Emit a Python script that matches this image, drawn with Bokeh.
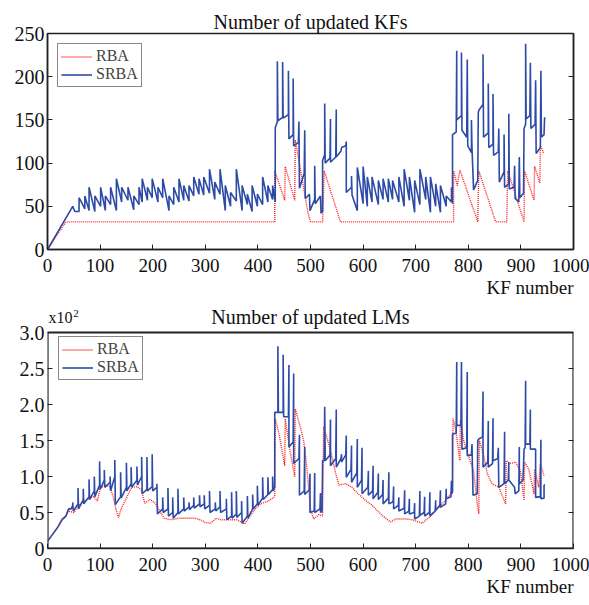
from bokeh.plotting import figure
from bokeh.layouts import column
from bokeh.models import Range1d, LinearAxis, FixedTicker, Title, Label, Legend, LegendItem
from bokeh.embed import file_html
from bokeh.resources import INLINE

FONT = "'Liberation Serif', 'Times New Roman', serif"
BLUE = "#2D4BA6"
RED = "#FF1E1E"
INK = "#222222"

x_ticks = [0, 100, 200, 300, 400, 500, 600, 700, 800, 900, 1000]
kf_yticks = [0, 50, 100, 150, 200, 250]
lm_yticks = [0, 0.5, 1.0, 1.5, 2.0, 2.5, 3.0]
lm_ytick_labels = ["0", "0.5", "1.0", "1.5", "2.0", "2.5", "3.0"]

# ---- Top panel: number of updated KFs (vertices) ----
kf_srba = [
    (0, 0), (48, 50), (52, 44),
    (60, 44), (60, 60), (71, 47), (71, 62), (79, 45), (79, 72), (90, 44), (90, 62),
    (101, 50), (101, 72), (110, 45), (110, 62), (120, 52), (120, 72), (131, 45), (131, 82),
    (141, 55), (141, 72), (153, 57), (153, 72), (164, 46), (164, 62), (174, 52), (174, 72),
    (180, 55), (180, 82), (190, 57), (190, 72), (199, 60), (199, 82), (210, 55), (210, 72),
    (219, 60), (219, 82), (231, 45), (231, 62), (240, 52), (240, 72), (250, 55), (250, 82),
    (259, 57), (259, 74), (269, 56), (269, 74), (278, 62), (278, 84), (288, 64), (288, 82),
    (297, 63), (297, 84), (308, 65), (308, 93), (318, 58), (318, 78), (328, 64), (328, 93),
    (338, 45), (338, 74), (348, 50), (348, 66), (359, 56), (359, 93), (370, 45), (370, 74),
    (380, 52), (380, 64), (389, 44), (389, 74), (399, 50), (399, 64), (409, 52), (409, 84),
    (419, 55), (419, 74), (428, 58), (428, 74), (433, 55),
    (433, 141), (437, 148), (437, 218), (438, 149), (447, 153), (447, 217), (448, 152),
    (458, 156), (458, 207), (459, 128), (467, 133), (467, 198), (468, 120), (477, 124),
    (478, 148), (479, 71), (488, 88), (489, 138), (490, 59), (498, 64), (499, 45),
    (508, 58), (508, 97), (509, 53), (519, 62), (520, 42), (523, 44), (523, 103),
    (527, 110), (527, 169), (528, 100), (537, 106), (538, 151), (538, 101), (548, 107),
    (549, 162), (549, 107), (558, 114), (559, 118), (567, 120), (568, 125), (568, 66),
    (578, 72), (578, 85), (579, 63),
    (589, 45), (589, 95), (600, 53), (600, 96), (608, 50), (608, 84), (617, 55), (617, 84),
    (629, 52), (629, 80), (638, 58), (638, 82), (648, 55), (648, 82), (656, 58), (656, 80),
    (668, 55), (668, 84), (678, 50), (678, 93), (688, 57), (688, 84), (698, 43), (698, 80),
    (708, 52), (708, 93), (719, 58), (719, 84), (728, 43), (728, 84), (738, 50), (738, 76),
    (747, 43), (747, 74), (758, 50), (758, 62), (768, 55), (768, 72), (770, 53),
    (770, 133), (777, 136), (778, 230), (778, 150), (787, 155), (787, 228), (788, 138),
    (797, 130), (798, 220), (799, 120), (806, 112), (806, 150), (807, 118), (810, 69),
    (818, 80), (819, 159), (821, 162), (828, 168), (828, 226), (829, 130), (838, 135),
    (838, 192), (839, 118), (847, 122), (847, 180), (848, 109), (857, 113), (858, 140),
    (859, 78), (868, 90), (868, 133), (869, 72), (877, 76), (877, 157), (878, 70),
    (887, 72), (888, 97), (889, 59), (896, 55), (897, 107), (898, 60), (905, 65),
    (906, 140), (909, 145), (909, 238), (910, 151), (917, 155), (918, 216), (919, 140),
    (927, 145), (928, 196), (929, 111), (937, 118), (938, 207), (939, 130), (944, 133),
    (945, 152), (946, 153),
]
kf_rba = [
    (0, 0), (35, 32), (432, 32), (432, 91), (451, 57), (452, 96), (470, 57), (471, 127),
    (496, 40), (500, 32), (523, 32), (526, 91), (557, 32), (772, 32), (772, 91), (779, 74),
    (784, 92), (818, 32), (820, 91), (852, 32), (873, 32), (875, 91), (906, 32), (907, 91),
    (925, 57), (926, 96), (936, 77), (937, 120), (944, 111),
]

# ---- Bottom panel: number of updated LMs (x10^2) ----
lm_srba = [
    (0, 0.1), (10, 0.2), (20, 0.3), (28, 0.4), (35, 0.45), (40, 0.55), (45, 0.55),
    (48, 0.6), (48, 0.64), (49, 0.52), (58, 0.62), (58, 0.84), (59, 0.55), (68, 0.68),
    (68, 0.83), (69, 0.62), (79, 0.72), (79, 0.96), (80, 0.68), (89, 0.8), (89, 1.0),
    (90, 0.72), (99, 0.88), (99, 1.21), (100, 0.82), (108, 0.95), (108, 1.09), (109, 0.85),
    (119, 0.92), (119, 1.0), (120, 0.8), (128, 1.0), (128, 1.23), (129, 0.61), (139, 0.72),
    (139, 1.06), (140, 0.7), (150, 0.85), (150, 1.19), (151, 0.8), (159, 0.9), (159, 1.13),
    (160, 0.85), (170, 0.95), (170, 1.14), (171, 0.88), (179, 1.0), (179, 1.27), (180, 0.76),
    (189, 0.82), (189, 1.27), (190, 0.8), (199, 0.86), (199, 1.31), (200, 0.8), (208, 0.85),
    (208, 0.9), (209, 0.48), (219, 0.55), (219, 0.71), (220, 0.5), (229, 0.55), (229, 0.84),
    (230, 0.45), (238, 0.5), (238, 0.71), (239, 0.42), (248, 0.5), (248, 0.83), (249, 0.48),
    (259, 0.55), (259, 0.71), (260, 0.52), (269, 0.58), (269, 0.64), (270, 0.54), (278, 0.6),
    (278, 0.71), (279, 0.56), (289, 0.62), (289, 0.74), (290, 0.58), (298, 0.62), (298, 0.74),
    (299, 0.55), (308, 0.6), (308, 0.8), (309, 0.5), (319, 0.55), (319, 0.64), (320, 0.52),
    (328, 0.58), (328, 0.8), (329, 0.5), (340, 0.55), (340, 0.69), (341, 0.4), (350, 0.45),
    (350, 0.78), (351, 0.42), (359, 0.48), (359, 0.8), (360, 0.43), (369, 0.5), (369, 0.66),
    (370, 0.35), (380, 0.45), (380, 0.73), (381, 0.42), (390, 0.55), (390, 0.75), (391, 0.55),
    (399, 0.62), (399, 0.87), (400, 0.6), (409, 0.7), (409, 0.99), (410, 0.68), (419, 0.75),
    (419, 0.99), (420, 0.75), (428, 0.82), (428, 1.0), (429, 0.8), (432, 0.85),
    (432, 1.89), (438, 1.89), (438, 2.81), (439, 1.89), (448, 1.89), (448, 2.69), (449, 1.83),
    (458, 1.83), (459, 2.55), (459, 1.41), (467, 1.48), (468, 2.43), (468, 1.18), (478, 1.25),
    (479, 1.58), (479, 0.74), (488, 0.8), (489, 1.41), (489, 0.75), (498, 0.82), (499, 1.04),
    (499, 0.5), (507, 0.52), (508, 1.05), (508, 0.5), (518, 0.55), (519, 0.77), (519, 0.5),
    (522, 0.52), (523, 1.22), (526, 1.22), (527, 1.97), (528, 1.22), (537, 1.3), (538, 1.79),
    (538, 1.15), (548, 1.25), (549, 1.93), (549, 1.13), (558, 1.25), (559, 1.31), (559, 1.2),
    (567, 1.3), (568, 1.57), (568, 0.99), (577, 1.1), (578, 1.43), (578, 0.92), (588, 1.05),
    (589, 1.52), (589, 0.85), (597, 0.95), (598, 1.4), (598, 0.76), (609, 0.85), (610, 1.08),
    (610, 0.74), (618, 0.8), (619, 1.15), (619, 0.69), (628, 0.78), (629, 1.04), (629, 0.68),
    (637, 0.75), (638, 0.95), (638, 0.62), (648, 0.7), (649, 1.06), (649, 0.62), (657, 0.65),
    (658, 0.86), (658, 0.55), (667, 0.6), (668, 0.71), (668, 0.52), (678, 0.56), (679, 0.81),
    (679, 0.48), (687, 0.52), (688, 0.69), (688, 0.48), (697, 0.5), (698, 0.63), (698, 0.41),
    (707, 0.45), (708, 0.8), (708, 0.46), (716, 0.5), (717, 0.72), (717, 0.45), (726, 0.5),
    (727, 0.78), (727, 0.45), (737, 0.52), (738, 0.67), (738, 0.53), (746, 0.6), (747, 0.81),
    (747, 0.57), (757, 0.62), (758, 0.83), (758, 0.69), (767, 0.72), (768, 0.94), (768, 0.76),
    (770, 0.78), (770, 1.59), (777, 1.6), (778, 2.59), (778, 1.71), (786, 1.71), (787, 2.59),
    (788, 1.38), (797, 1.4), (798, 2.45), (798, 1.29), (806, 1.3), (807, 1.45), (809, 0.74),
    (817, 0.76), (818, 1.5), (820, 1.52), (827, 1.55), (828, 2.18), (828, 1.13), (837, 1.2),
    (838, 1.77), (838, 1.13), (846, 1.18), (847, 1.81), (847, 1.22), (856, 1.25), (857, 1.4),
    (858, 0.85), (868, 0.9), (869, 1.62), (869, 0.9), (876, 0.95), (877, 1.2), (877, 0.95),
    (888, 0.85), (889, 0.76), (896, 0.8), (897, 1.41), (897, 0.9), (904, 0.95), (906, 1.38),
    (908, 1.4), (909, 2.33), (909, 1.45), (917, 1.45), (918, 1.93), (918, 1.38), (928, 1.38),
    (928, 0.71), (937, 0.72), (938, 1.51), (938, 0.69), (944, 0.7), (944, 0.88), (946, 0.88),
]
lm_rba = [
    (0, 0.1), (10, 0.2), (20, 0.3), (28, 0.42), (35, 0.45), (40, 0.52), (50, 0.5), (55, 0.55),
    (60, 0.6), (70, 0.66), (80, 0.7), (88, 0.72), (95, 0.66), (100, 0.84), (110, 0.88),
    (118, 0.86), (125, 0.72), (130, 0.55), (135, 0.43), (140, 0.55), (150, 0.7), (160, 0.85),
    (170, 0.86), (178, 0.82), (185, 0.63), (195, 0.68), (205, 0.63), (215, 0.5), (222, 0.42),
    (235, 0.4), (250, 0.42), (265, 0.42), (280, 0.42), (290, 0.4), (300, 0.36), (310, 0.35),
    (320, 0.42), (330, 0.4), (345, 0.4), (360, 0.4), (370, 0.36), (375, 0.34), (385, 0.45),
    (395, 0.55), (405, 0.62), (420, 0.66), (432, 0.72), (433, 1.8), (440, 1.6), (451, 1.15),
    (452, 1.8), (460, 1.4), (470, 1.0), (471, 1.94), (480, 1.7), (487, 1.5), (492, 1.2),
    (497, 0.8), (500, 0.55), (506, 0.41), (516, 0.47), (523, 0.45), (525, 1.69), (528, 1.62),
    (538, 1.36), (548, 1.04), (554, 0.88), (566, 0.9), (579, 0.85), (585, 0.8), (601, 0.69),
    (617, 0.6), (636, 0.46), (652, 0.37), (662, 0.41), (681, 0.41), (693, 0.4), (712, 0.35),
    (725, 0.43), (738, 0.53), (757, 0.67), (770, 0.8), (771, 1.81), (776, 1.65), (784, 1.22),
    (785, 1.78), (791, 1.5), (801, 1.27), (810, 1.08), (817, 0.62), (820, 0.48), (821, 1.5),
    (830, 1.27), (836, 1.04), (845, 0.9), (858, 0.85), (871, 0.62), (872, 1.22), (880, 1.18),
    (890, 1.2), (899, 1.08), (906, 0.67), (907, 1.2), (915, 1.1), (925, 0.76), (926, 1.1),
    (934, 0.85), (937, 1.18), (944, 1.01),
]


def split(pts):
    return [a for a, _ in pts], [b for _, b in pts]


def style_axis(ax, ticks, size, overrides=None, hide_labels=False, line=True):
    ax.ticker = FixedTicker(ticks=ticks)
    ax.major_tick_in = 5
    ax.major_tick_out = 0
    ax.minor_tick_line_color = None
    ax.axis_line_color = INK if line else None
    ax.axis_line_width = 1.5
    ax.major_tick_line_color = INK
    ax.major_label_text_font = FONT
    ax.major_label_text_font_size = size
    ax.major_label_text_color = "#111111"
    if hide_labels:
        ax.major_label_overrides = {t: "" for t in ticks}
    elif overrides:
        ax.major_label_overrides = overrides


def make_legend(p, r1, r2, location):
    legend = Legend(items=[LegendItem(label="RBA", renderers=[r1]),
                           LegendItem(label="SRBA", renderers=[r2])],
                    location=location)
    legend.margin = 10
    legend.padding = 3
    legend.spacing = 0
    legend.label_text_font = FONT
    legend.label_text_font_size = "16px"
    legend.label_height = 15
    legend.glyph_height = 15
    legend.glyph_width = 31
    legend.label_standoff = 4
    legend.border_line_color = "#111111"
    legend.border_line_width = 1
    legend.background_fill_alpha = 1
    p.add_layout(legend)


def add_xlabel(p):
    xl = Title(text="KF number", align="right", text_font=FONT, text_font_size="19px",
               text_font_style="normal", text_color="#111111", standoff=0)
    p.add_layout(xl, "below")


# ---------------- top figure ----------------
p1 = figure(width=589, height=306, x_range=Range1d(0, 1000), y_range=Range1d(0, 250),
            output_backend="svg", toolbar_location=None,
            min_border_left=47, min_border_right=16, min_border_top=33, min_border_bottom=57)
p1.grid.visible = False
p1.outline_line_color = INK
p1.outline_line_width = 1.5
p1.title.text = "Number of updated KFs"
p1.title.align = "center"
p1.title.text_font = FONT
p1.title.text_font_size = "20px"
p1.title.text_font_style = "normal"
p1.title.text_color = "#111111"
p1.title.standoff = 2
style_axis(p1.xaxis[0], x_ticks, "19px")
p1.xaxis[0].major_label_standoff = 9
style_axis(p1.yaxis[0], kf_yticks, "20px")
p1.yaxis[0].major_label_standoff = 3
r_ax1 = LinearAxis()
style_axis(r_ax1, kf_yticks, "10px", hide_labels=True)
r_ax1.major_label_standoff = 0
p1.add_layout(r_ax1, "right")
rx, ry = split(kf_rba)
sx, sy = split(kf_srba)
a1 = p1.line(rx, ry, line_color=RED, line_width=1.4, line_dash="1 1")
a2 = p1.line(sx, sy, line_color=BLUE, line_width=1.6)
make_legend(p1, a1, a2, "top_left")
add_xlabel(p1)

# ---------------- bottom figure (frame extended upward so that the title
# and the x10^2 multiplier can be drawn as labels) ----------------
LM_TOP = lm_yticks[-1]
p2 = figure(width=589, height=297, x_range=Range1d(0, 1000),
            y_range=Range1d(0, LM_TOP * 240 / 216),
            output_backend="svg", toolbar_location=None,
            min_border_left=47, min_border_right=16, min_border_top=2, min_border_bottom=55)
p2.grid.visible = False
p2.outline_line_color = None
style_axis(p2.xaxis[0], x_ticks, "19px")
p2.xaxis[0].major_label_standoff = 9
style_axis(p2.yaxis[0], lm_yticks, "20px",
           overrides={t: s for t, s in zip(lm_yticks, lm_ytick_labels)}, line=False)
p2.yaxis[0].major_label_standoff = 3
r_ax2 = LinearAxis()
style_axis(r_ax2, lm_yticks, "10px", hide_labels=True, line=False)
r_ax2.major_label_standoff = 0
p2.add_layout(r_ax2, "right")
# box around the data area
p2.quad(left=[x_ticks[0]], right=[x_ticks[-1]], bottom=[lm_yticks[0]], top=[LM_TOP],
        fill_color=None, line_color=INK, line_width=2.2)
rx, ry = split(lm_rba)
sx, sy = split(lm_srba)
b1 = p2.line(rx, ry, line_color=RED, line_width=1.4, line_dash="1 1")
b2 = p2.line(sx, sy, line_color=BLUE, line_width=1.6)
make_legend(p2, b1, b2, (11, 168))
add_xlabel(p2)

p2.add_layout(Label(x=500, y=LM_TOP, text="Number of updated LMs", y_offset=16,
                    text_font=FONT, text_font_size="20px", text_color="#111111",
                    text_baseline="middle", text_align="center"))
p2.add_layout(Label(x=0, y=LM_TOP, text="x10", x_offset=1, y_offset=7,
                    text_font=FONT, text_font_size="16px", text_color="#111111",
                    text_baseline="bottom", text_align="left"))
p2.add_layout(Label(x=49, y=LM_TOP, text="2", y_offset=16,
                    text_font=FONT, text_font_size="11px", text_color="#111111",
                    text_baseline="bottom", text_align="left"))

layout = column(p1, p2)
open("out.html", "w").write(file_html(layout, INLINE))
